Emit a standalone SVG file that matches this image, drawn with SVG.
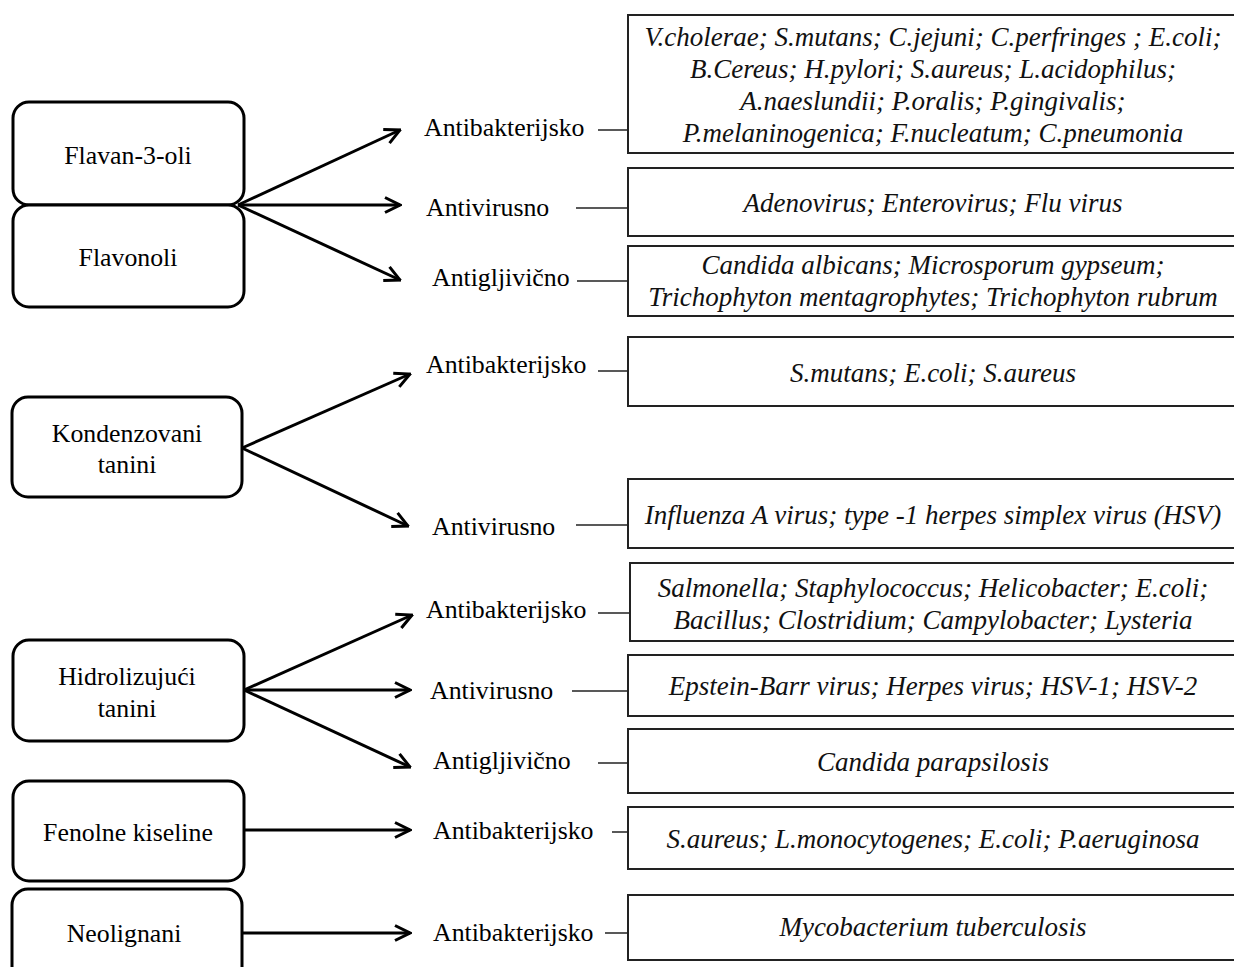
<svg xmlns="http://www.w3.org/2000/svg" width="1234" height="967" viewBox="0 0 1234 967">
<style>
.src{fill:#fff;stroke:#000;stroke-width:3}
.res{fill:#fff;stroke:#222;stroke-width:2}
.t{font-family:"Liberation Serif","Times New Roman",serif;font-size:25.8px;fill:#000}
.c{text-anchor:middle}
.i{font-family:"Liberation Serif","Times New Roman",serif;font-size:27px;font-style:italic;fill:#111;text-anchor:middle}
.arr{stroke:#000;stroke-width:3;fill:none;marker-end:url(#ah)}
.ln{stroke:#222;stroke-width:1.5;fill:none}
</style>
<defs>
<marker id="ah" viewBox="0 0 12 12" refX="11" refY="6" markerWidth="6" markerHeight="6" orient="auto" markerUnits="strokeWidth">
<path d="M1,1 L11,6 L1,11" fill="none" stroke="#000" stroke-width="2"/>
</marker>
</defs>
<rect width="1234" height="967" fill="#fff"/>

<g id="connectors">
<line class="arr" x1="238" y1="205" x2="400" y2="130"/>
<line class="arr" x1="238" y1="205" x2="400" y2="205"/>
<line class="arr" x1="238" y1="205" x2="400" y2="280"/>
<line class="arr" x1="242" y1="448" x2="410" y2="374"/>
<line class="arr" x1="242" y1="448" x2="408" y2="526"/>
<line class="arr" x1="244" y1="690" x2="412" y2="615"/>
<line class="arr" x1="244" y1="690" x2="410" y2="690"/>
<line class="arr" x1="244" y1="690" x2="410" y2="767"/>
<line class="arr" x1="244" y1="830" x2="410" y2="830"/>
<line class="arr" x1="242" y1="933" x2="410" y2="933"/>
<line class="ln" x1="598" y1="130" x2="628" y2="130"/>
<line class="ln" x1="576" y1="208" x2="628" y2="208"/>
<line class="ln" x1="577" y1="281" x2="628" y2="281"/>
<line class="ln" x1="598" y1="371" x2="628" y2="371"/>
<line class="ln" x1="576" y1="525" x2="628" y2="525"/>
<line class="ln" x1="598" y1="613" x2="630" y2="613"/>
<line class="ln" x1="572" y1="691" x2="628" y2="691"/>
<line class="ln" x1="598" y1="763" x2="628" y2="763"/>
<line class="ln" x1="612" y1="832" x2="628" y2="832"/>
<line class="ln" x1="605" y1="933" x2="628" y2="933"/>
</g>

<g id="n-flavan">
<rect class="src" x="13" y="102" width="231" height="103" rx="16"/>
<text class="t c" x="128" y="164">Flavan-3-oli</text>
</g>
<g id="n-flavonoli">
<rect class="src" x="13" y="205" width="231" height="102" rx="16"/>
<text class="t c" x="128" y="266">Flavonoli</text>
</g>
<g id="n-kondenzovani">
<rect class="src" x="12" y="397" width="230" height="100" rx="16"/>
<text class="t c" x="127" y="442">Kondenzovani</text>
<text class="t c" x="127" y="473">tanini</text>
</g>
<g id="n-hidrolizujuci">
<rect class="src" x="13" y="640" width="231" height="101" rx="16"/>
<text class="t c" x="127" y="685">Hidrolizujući</text>
<text class="t c" x="127" y="717">tanini</text>
</g>
<g id="n-fenolne">
<rect class="src" x="13" y="781" width="231" height="100" rx="16"/>
<text class="t c" x="128" y="841">Fenolne  kiseline</text>
</g>
<g id="n-neolignani">
<rect class="src" x="12" y="889" width="230" height="100" rx="16"/>
<text class="t c" x="124" y="942">Neolignani</text>
</g>

<g id="l-1"><text class="t" x="424" y="136">Antibakterijsko</text></g>
<g id="l-2"><text class="t" x="426" y="216">Antivirusno</text></g>
<g id="l-3"><text class="t" x="432" y="286">Antigljivično</text></g>
<g id="l-4"><text class="t" x="426" y="373">Antibakterijsko</text></g>
<g id="l-5"><text class="t" x="432" y="535">Antivirusno</text></g>
<g id="l-6"><text class="t" x="426" y="618">Antibakterijsko</text></g>
<g id="l-7"><text class="t" x="430" y="699">Antivirusno</text></g>
<g id="l-8"><text class="t" x="433" y="769">Antigljivično</text></g>
<g id="l-9"><text class="t" x="433" y="839">Antibakterijsko</text></g>
<g id="l-10"><text class="t" x="433" y="941">Antibakterijsko</text></g>

<g id="r-1">
<rect class="res" x="628" y="15" width="620" height="138"/>
<text class="i" x="933" y="46">V.cholerae; S.mutans; C.jejuni; C.perfringes ; E.coli;</text>
<text class="i" x="933" y="78">B.Cereus; H.pylori; S.aureus; L.acidophilus;</text>
<text class="i" x="933" y="110">A.naeslundii; P.oralis; P.gingivalis;</text>
<text class="i" x="933" y="142">P.melaninogenica; F.nucleatum; C.pneumonia</text>
</g>
<g id="r-2">
<rect class="res" x="628" y="168" width="620" height="68"/>
<text class="i" x="933" y="212">Adenovirus; Enterovirus; Flu virus</text>
</g>
<g id="r-3">
<rect class="res" x="628" y="246" width="620" height="70"/>
<text class="i" x="933" y="274">Candida albicans; Microsporum gypseum;</text>
<text class="i" x="933" y="306">Trichophyton mentagrophytes; Trichophyton rubrum</text>
</g>
<g id="r-4">
<rect class="res" x="628" y="337" width="620" height="69"/>
<text class="i" x="933" y="382">S.mutans; E.coli; S.aureus</text>
</g>
<g id="r-5">
<rect class="res" x="628" y="479" width="620" height="69"/>
<text class="i" x="933" y="524">Influenza A virus; type -1 herpes simplex virus (HSV)</text>
</g>
<g id="r-6">
<rect class="res" x="630" y="563" width="620" height="78"/>
<text class="i" x="933" y="597">Salmonella; Staphylococcus; Helicobacter; E.coli;</text>
<text class="i" x="933" y="629">Bacillus; Clostridium; Campylobacter; Lysteria</text>
</g>
<g id="r-7">
<rect class="res" x="628" y="655" width="620" height="61"/>
<text class="i" x="933" y="695">Epstein-Barr virus; Herpes virus; HSV-1; HSV-2</text>
</g>
<g id="r-8">
<rect class="res" x="628" y="729" width="620" height="64"/>
<text class="i" x="933" y="771">Candida parapsilosis</text>
</g>
<g id="r-9">
<rect class="res" x="628" y="807" width="620" height="62"/>
<text class="i" x="933" y="848">S.aureus; L.monocytogenes; E.coli; P.aeruginosa</text>
</g>
<g id="r-10">
<rect class="res" x="628" y="895" width="620" height="65"/>
<text class="i" x="933" y="936">Mycobacterium tuberculosis</text>
</g>
</svg>
